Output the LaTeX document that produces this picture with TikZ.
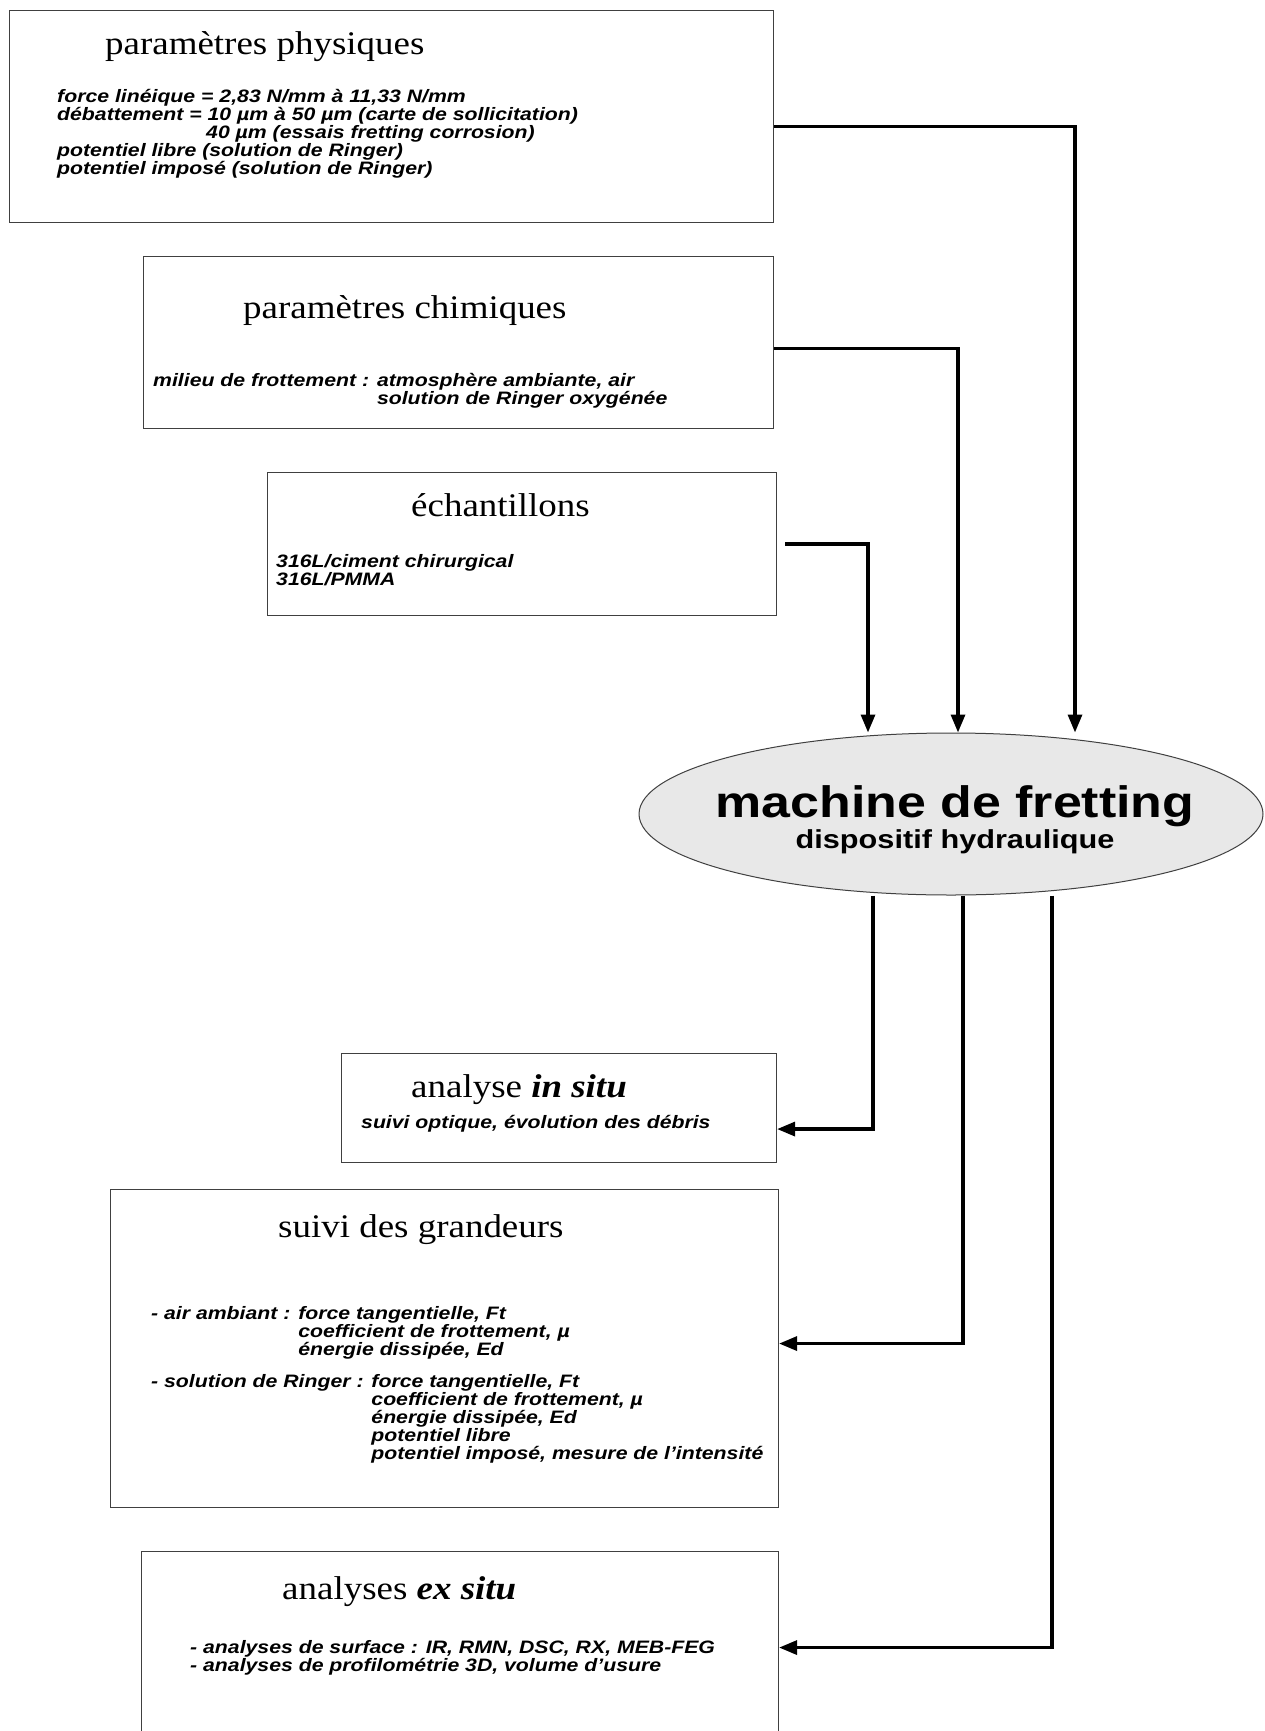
\documentclass[tikz,border=0pt]{standalone}
\usepackage{fontspec}
\newfontfamily\titrefont{Liberation Serif}[FakeStretch=1.12]
\newfontfamily\corpsfont{Liberation Sans}[FakeStretch=1.18]
\usetikzlibrary{arrows.meta,shapes.geometric,positioning,calc}

\begin{document}
\begin{tikzpicture}[x=1pt,y=-1pt,
    boite/.style={draw=black!75,line width=1.1pt,anchor=north west,inner sep=0pt},
    titre/.style={anchor=base west,inner sep=0pt,font=\titrefont\fontsize{33}{35}\selectfont},
    corps/.style={anchor=north west,inner sep=0pt,align=left,font=\corpsfont\bfseries\itshape\fontsize{18}{18}\selectfont},
    fleche/.style={-{Triangle[length=18pt,width=14pt]},line width=3.3pt}]
  \useasboundingbox (0,0) rectangle (1265,1731);
  \clip (0,0) rectangle (1265,1731);

  % Paramètres d'entrée
  \node[boite,minimum width=764pt,minimum height=212pt] (phys) at (9,10) {};
  \node[titre] (physT) at (105,55) {paramètres physiques};
  \node[corps] (physC) at (57,89) {force linéique = 2,83 N/mm à 11,33 N/mm\\
    débattement = 10 µm à 50 µm (carte de sollicitation)\\
    \hspace*{149pt}40 µm (essais fretting corrosion)\\
    potentiel libre (solution de Ringer)\\
    potentiel imposé (solution de Ringer)};

  \node[boite,minimum width=630pt,minimum height=172pt] (chim) at (143,256) {};
  \node[titre] (chimT) at (243,318) {paramètres chimiques};
  \node[corps] (chimC) at (153,373) {milieu de frottement : atmosphère ambiante, air\\
    \phantom{milieu de frottement : }solution de Ringer oxygénée};

  \node[boite,minimum width=509pt,minimum height=143pt] (echant) at (267,472) {};
  \node[titre] (echantT) at (411,516) {échantillons};
  \node[corps] (echantC) at (276,554) {316L/ciment chirurgical\\316L/PMMA};

  % Machine
  \node[draw=black!75,line width=1pt,fill=black!9,ellipse,inner sep=0pt,
    minimum width=624pt,minimum height=162pt] (machine) at (951,814) {};
  \node[anchor=base,inner sep=0pt,font=\corpsfont\bfseries\fontsize{44}{46}\selectfont] (machineT) at (955,817) {machine de fretting};
  \node[anchor=base,inner sep=0pt,font=\corpsfont\bfseries\fontsize{26}{28}\selectfont] (machineS) at (955,848) {dispositif hydraulique};

  % Analyses
  \node[boite,minimum width=435pt,minimum height=109pt] (insitu) at (341,1053) {};
  \node[titre] (insituT) at (411,1097) {analyse \textbf{\textit{in situ}}};
  \node[corps] (insituC) at (361,1115) {suivi optique, évolution des débris};

  \node[boite,minimum width=668pt,minimum height=318pt] (suivi) at (110,1189) {};
  \node[titre] (suiviT) at (278,1237) {suivi des grandeurs};
  \node[corps] (suiviC) at (151,1306) {- air ambiant : force tangentielle, Ft\\
    \phantom{- air ambiant : }coefficient de frottement, µ\\
    \phantom{- air ambiant : }énergie dissipée, Ed\\[14pt]
    - solution de Ringer : force tangentielle, Ft\\
    \phantom{- solution de Ringer : }coefficient de frottement, µ\\
    \phantom{- solution de Ringer : }énergie dissipée, Ed\\
    \phantom{- solution de Ringer : }potentiel libre\\
    \phantom{- solution de Ringer : }potentiel imposé, mesure de l’intensité};

  \node[boite,minimum width=637pt,minimum height=192pt] (exsitu) at (141,1551) {};
  \node[titre] (exsituT) at (282,1599) {analyses \textbf{\textit{ex situ}}};
  \node[corps] (exsituC) at (190,1640) {- analyses de surface : IR, RMN, DSC, RX, MEB-FEG\\
    - analyses de profilométrie 3D, volume d’usure};

  % Liaisons
  \coordinate (e1) at (1075,0);
  \coordinate (e2) at (958,0);
  \coordinate (e3) at (868,0);
  \draw[fleche] ($(phys.east)+(0,10)$) -| (e1 |- machine.north);
  \draw[fleche] ($(chim.east)+(0,6)$) -| (e2 |- machine.north);
  \draw[fleche] ($(echant.east)+(8,0)$) -| (e3 |- machine.north);

  \coordinate (s1) at (873,0);
  \coordinate (s2) at (963,0);
  \coordinate (s3) at (1052,0);
  \draw[fleche] (s1 |- machine.south) |- ($(insitu.east)+(0,21)$);
  \draw[fleche] (s2 |- machine.south) |- ($(suivi.east)+(0,-5)$);
  \draw[fleche] (s3 |- machine.south) |- (exsitu.east);
\end{tikzpicture}
\end{document}
